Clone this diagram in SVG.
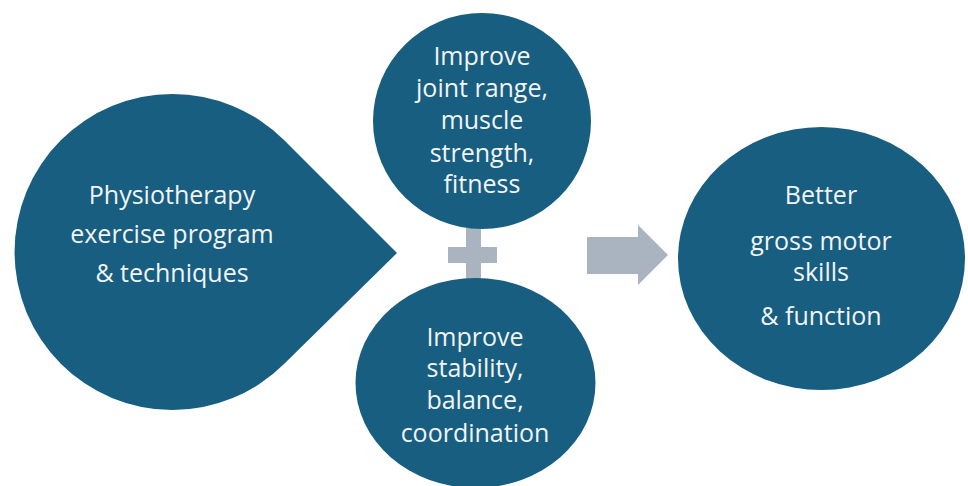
<svg xmlns="http://www.w3.org/2000/svg" width="968" height="486" viewBox="0 0 968 486">
<style>
.node{fill:#175E80;}
.sym{fill:#A9B4C0;}
text{font-family:"Open Sans","Liberation Sans",sans-serif;font-size:25px;fill:#F2F4F5;text-anchor:middle;}
</style>
<rect width="968" height="486" fill="#FFFFFF"/>
<g id="connectors">
<g id="plus" class="sym">
<rect x="466" y="228" width="15" height="52"/>
<rect x="448" y="247" width="49" height="16"/>
</g>
<polygon id="arrow" class="sym" points="587,237 638,237 638,225 668,255 638,285 638,274 587,274"/>
</g>
<g id="physio">
<path class="node" d="M397 253 L284 364 A158 158 0 1 1 284 140 Z"/>
<text x="172" y="204">Physiotherapy</text>
<text x="172" y="243">exercise program</text>
<text x="172" y="282">&amp; techniques</text>
</g>
<g id="joint">
<ellipse class="node" cx="482" cy="121" rx="109" ry="108"/>
<text x="482" y="65">Improve</text>
<text x="482" y="97">joint range,</text>
<text x="482" y="129">muscle</text>
<text x="482" y="162">strength,</text>
<text x="482" y="193">fitness</text>
</g>
<g id="stability">
<ellipse class="node" cx="475.5" cy="383" rx="120" ry="105"/>
<text x="475" y="346">Improve</text>
<text x="475" y="377">stability,</text>
<text x="475" y="409">balance,</text>
<text x="475" y="442">coordination</text>
</g>
<g id="better">
<ellipse class="node" cx="821.5" cy="258.5" rx="143.5" ry="131.5"/>
<text x="821" y="204">Better</text>
<text x="821" y="250">gross motor</text>
<text x="821" y="281">skills</text>
<text x="821" y="325">&amp; function</text>
</g>
</svg>
